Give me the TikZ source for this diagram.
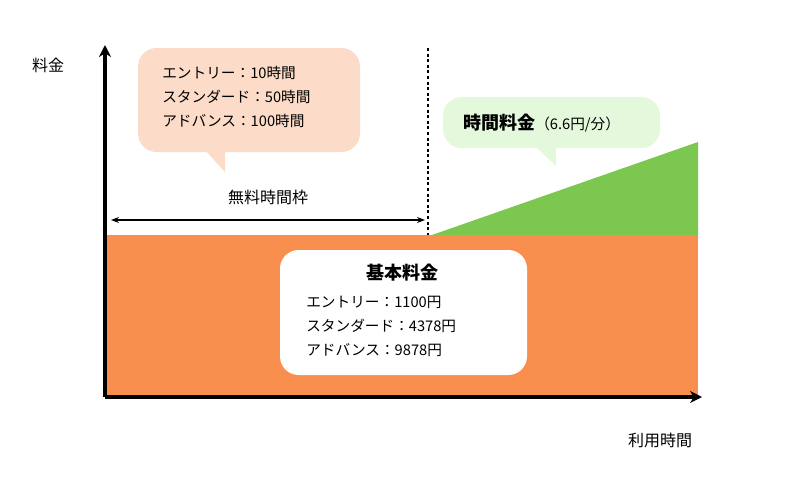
\documentclass[tikz,border=0pt]{standalone}
\usepackage{fontspec}
\setmainfont{Noto Sans CJK JP}
\usetikzlibrary{arrows.meta}
\definecolor{orng}{HTML}{F98F4F}
\definecolor{grn}{HTML}{7BC74F}
\definecolor{peach}{HTML}{FCDCC8}
\definecolor{lgrn}{HTML}{E4F8DB}
\tikzset{
 axis/.style={line width=2.6pt,-{Stealth[length=9pt,width=9pt]}},
 txt/.style={font=\fontsize{11}{13}\selectfont,anchor=west,inner sep=0pt},
 ttl/.style={font=\fontsize{13.5}{15}\selectfont\bfseries,inner sep=0pt},
}
\begin{document}
\begin{tikzpicture}[x=0.75pt,y=-0.75pt]
\useasboundingbox[fill=white] (0,0) rectangle (800,482);
\fill[orng] (107,235) rectangle (698,395);
\fill[grn] (432,235) -- (698,142) -- (698,235) -- cycle;
\coordinate (o) at (105,397);
\coordinate (yt) at (105,45);
\coordinate (xt) at (702,397);
\draw[axis] (o) -- (yt);
\draw[axis] (o) -- (xt);
\coordinate (d1) at (428,48); \coordinate (d2) at (428,235);
\draw[line width=2.2pt,dotted] (d1) -- (d2);
\coordinate (a1) at (111,220); \coordinate (a2) at (425,220);
\draw[line width=0.9pt,{Stealth[length=6pt]}-{Stealth[length=6pt]}] (a1) -- (a2);
\node[font=\fontsize{12}{14}\selectfont] (free) at (268,197) {無料時間枠};
% peach callout
\fill[peach,rounded corners=14pt] (138,48) rectangle (360,152);
\fill[peach] (205,150) -- (225,172) -- (225,150) -- cycle;
\node[txt] (p1) at (162,73) {エントリー：10時間};
\node[txt] (p2) at (162,97) {スタンダード：50時間};
\node[txt] (p3) at (162,121) {アドバンス：100時間};
% green callout
\fill[lgrn,rounded corners=14pt] (443,97) rectangle (660,148);
\fill[lgrn] (535,146) -- (556,166) -- (556,146) -- cycle;
\node[anchor=west,inner sep=0pt] (g) at (463,123) {{\fontsize{13.5}{15}\selectfont\bfseries 時間料金}{\fontsize{11}{13}\selectfont（6.6円/分）}};
% white box
\fill[white,rounded corners=14pt] (280,250) rectangle (527,375);
\node[ttl] (k) at (402,273) {基本料金};
\node[txt] (k1) at (306,302) {エントリー：1100円};
\node[txt] (k2) at (306,326) {スタンダード：4378円};
\node[txt] (k3) at (306,350) {アドバンス：9878円};
\node[font=\fontsize{12}{14}\selectfont] (yl) at (48,65) {料金};
\node[font=\fontsize{12}{14}\selectfont] (xl) at (660,440) {利用時間};
\end{tikzpicture}
\end{document}
